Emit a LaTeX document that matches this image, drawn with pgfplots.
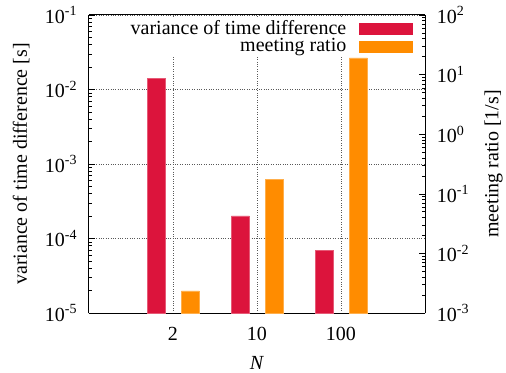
\documentclass[border=0pt]{standalone}
\usepackage{fontspec}
\setmainfont{Liberation Serif}
\usepackage{pgfplots}
\pgfplotsset{compat=1.18}
\definecolor{crimson}{RGB}{220,20,60}
\definecolor{dorange}{RGB}{255,140,0}
\newcommand{\fs}{\fontsize{20bp}{22bp}\selectfont}
\begin{document}
\fs
\begin{tikzpicture}
\begin{axis}[
  scale only axis, width=336bp, height=298bp,
  xmin=-1, xmax=3,
  ymode=log, log origin y=infty,
  tick align=inside,
  major tick length=6bp, minor tick length=3bp,
  every tick/.style={black, line width=0.6bp},
  axis line style={black, line width=1bp},
  axis y line*=left,
  xtick={0,1,2}, xticklabels={2,10,100},
  every x tick/.style={draw=none},
  xticklabel style={yshift=-7bp, font=\fs},
  ymin=1e-5, ymax=1e-1,
  ytick={1e-5,1e-4,1e-3,1e-2,1e-1},
  yticklabels={10\textsuperscript{-5},10\textsuperscript{-4},10\textsuperscript{-3},10\textsuperscript{-2},10\textsuperscript{-1}},
  yticklabel style={xshift=-5bp, font=\fs},
  ymajorgrids, xmajorgrids,
  major grid style={dotted, black!65, line width=0.6bp},
  xlabel={\textit{N}},
  xlabel style={yshift=-3bp, font=\fs},
  ylabel={variance of time difference [s]},
  ylabel style={yshift=2bp, font=\fs},
]
\addplot[ybar, bar width=18bp, bar shift=-16.5bp, fill=crimson, draw=crimson!70!white, line width=0.5bp]
  coordinates {(0,0.0140) (1,2.02e-4) (2,7.0e-5)};
\coordinate (sw) at (rel axis cs:0,0);
\end{axis}
\begin{axis}[
  scale only axis, width=336bp, height=298bp,
  xmin=-1, xmax=3,
  ymode=log, log origin y=infty,
  tick align=inside,
  major tick length=6bp, minor tick length=3bp,
  every tick/.style={black, line width=0.6bp},
  axis line style={black, line width=1bp},
  axis y line*=right, axis x line=none,
  ymin=1e-3, ymax=1e2,
  ytick={1e-3,1e-2,1e-1,1e0,1e1,1e2},
  yticklabels={10\textsuperscript{-3},10\textsuperscript{-2},10\textsuperscript{-1},10\textsuperscript{0},10\textsuperscript{1},10\textsuperscript{2}},
  yticklabel style={xshift=5bp, font=\fs},
  ylabel={meeting ratio [1/s]},
  ylabel style={yshift=-2bp, font=\fs},
  legend cell align=right,
  legend plot pos=right,
  legend style={at={(rel axis cs:1,1)}, anchor=north east, xshift=-12bp, yshift=-4bp,
    draw=none, fill=white, inner sep=0bp, row sep=-1bp,
    font=\fs,
    nodes={inner sep=1bp}},
]
\addlegendimage{legend image code/.code={\path (0bp,0bp); \fill[crimson] (12bp,-5.5bp) rectangle (65bp,5.5bp);}}
\addlegendentry{variance of time difference}
\addplot[ybar, bar width=18bp, bar shift=17.3bp, fill=dorange, draw=dorange!70!white, line width=0.5bp,
  legend image code/.code={\path (0bp,0bp); \fill[dorange] (12bp,-5.5bp) rectangle (65bp,5.5bp);}]
  coordinates {(0,2.34e-3) (1,0.177) (2,19.0)};
\addlegendentry{meeting ratio}
\end{axis}
\pgfresetboundingbox
\path (sw) ++(-89bp,-60bp) rectangle ++(506bp,373bp);
\end{tikzpicture}
\end{document}
